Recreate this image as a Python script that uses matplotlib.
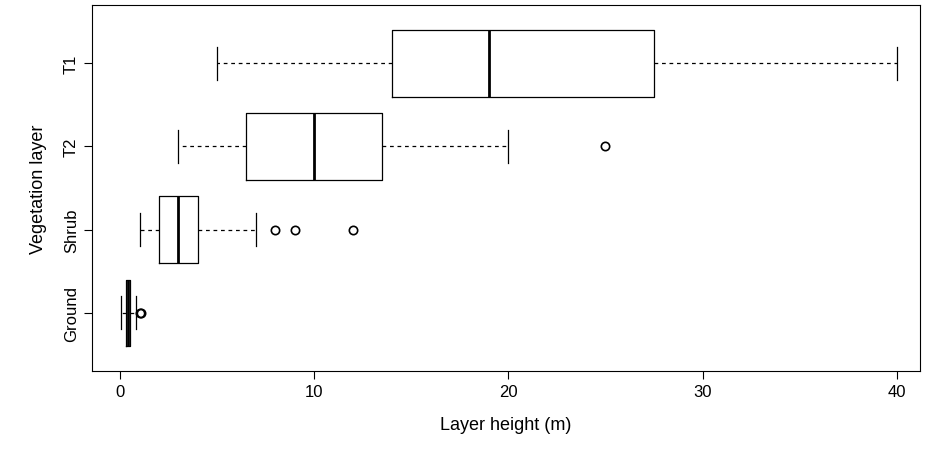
import matplotlib
matplotlib.use("Agg")
import matplotlib.pyplot as plt

plt.rcParams["font.family"] = ["Liberation Sans", "DejaVu Sans"]

layers = ["Ground", "Shrub", "T2", "T1"]
whislo = [0.05, 1.0, 3.0, 5.0]
q1 = [0.3, 2.0, 6.5, 14.0]
med = [0.4, 3.0, 10.0, 19.0]
q3 = [0.5, 4.0, 13.5, 27.5]
whishi = [0.8, 7.0, 20.0, 40.0]
outliers = [[1.0, 1.05], [8.0, 9.0, 12.0], [25.0], []]

stats = [dict(whislo=a, q1=b, med=c, q3=d, whishi=e, fliers=f, label=l)
         for a, b, c, d, e, f, l in zip(whislo, q1, med, q3, whishi, outliers, layers)]

fig = plt.figure(figsize=(9.46, 4.52), dpi=100)
ax = fig.add_axes([92/946, 80/452, 828/946, 366/452])
ax.bxp(stats, positions=range(1, 5), vert=False, widths=0.8,
       boxprops=dict(color="black", linewidth=0.9),
       medianprops=dict(color="black", linewidth=2.0),
       whiskerprops=dict(color="black", linewidth=0.9, linestyle=(0, (3, 3))),
       capprops=dict(color="black", linewidth=0.9),
       capwidths=0.4,
       flierprops=dict(marker="o", markerfacecolor="none", markeredgecolor="black",
                       markersize=6, markeredgewidth=1.2))
ax.set_xlim(-1.45, 41.2)
ax.set_ylim(0.3, 4.7)
ax.set_xticks([0, 10, 20, 30, 40])
ax.set_yticks(range(1, 5))
ax.set_yticklabels(layers, rotation=90, va="center")
ax.tick_params(labelsize=12, length=6)
ax.set_xlabel("Layer height (m)", fontsize=13, labelpad=12)
ax.set_ylabel("Vegetation layer", fontsize=13, labelpad=12)
fig.savefig("out.png", dpi=100)
